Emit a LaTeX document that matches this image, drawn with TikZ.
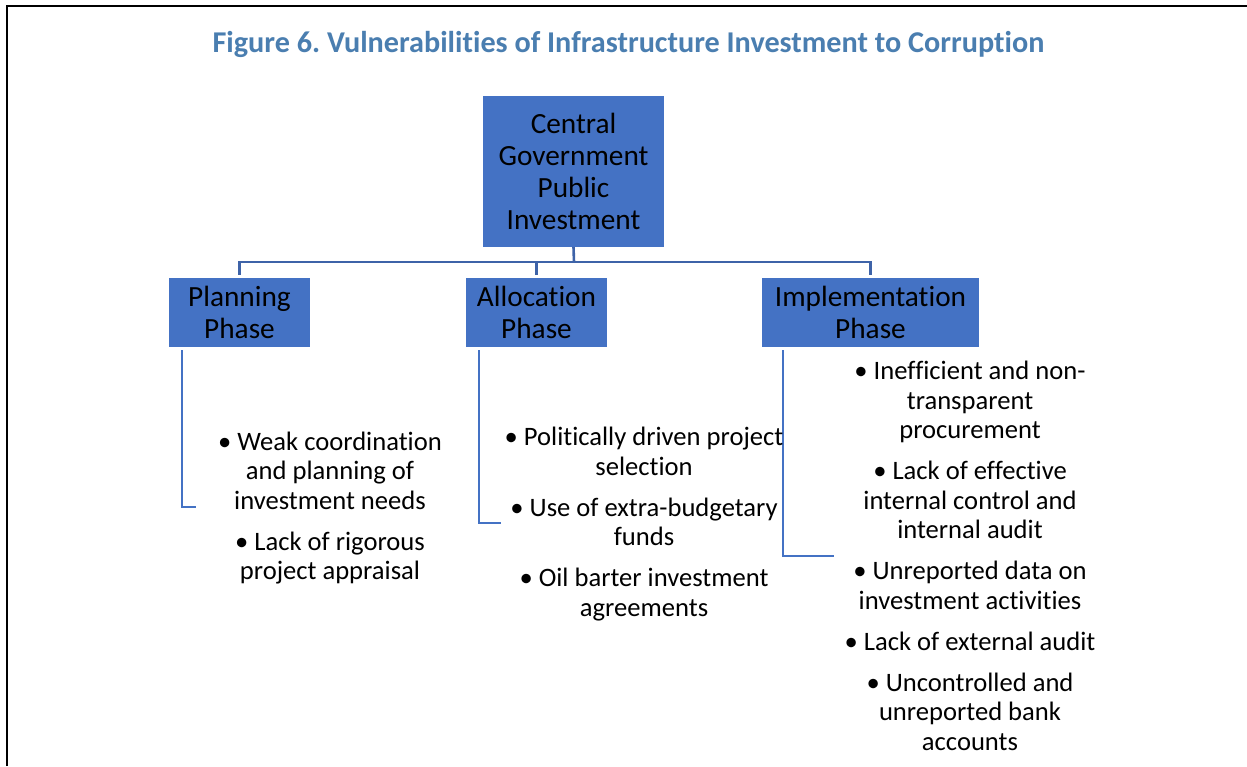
\documentclass[tikz,border=0pt]{standalone}
\usepackage{fontspec}
\setmainfont{Carlito}[Ligatures={NoCommon}]
\usetikzlibrary{calc}
\frenchspacing
\definecolor{boxblue}{HTML}{4472C4}
\definecolor{connblue}{HTML}{3E63A8}
\definecolor{titleblue}{HTML}{4A7EB0}
\tikzset{
  phasebox/.style={rectangle, fill=boxblue, draw=none, inner sep=0pt, align=center, text=black,
    font=\fontsize{29.3}{31.8}\selectfont},
  conn/.style={draw=connblue, line width=2.6pt},
  brk/.style={draw=boxblue, line width=2.6pt},
  bullets/.style={align=center, inner sep=0pt, text=black, font=\fontsize{26.6}{29.5}\selectfont},
  frameline/.style={draw=black, line width=2.2pt}
}
\begin{document}
\begin{tikzpicture}[x=1pt,y=-1pt]
\useasboundingbox (0,0) rectangle (1247,766);
\fill[white] (0,0) rectangle (1247,766);
\draw[frameline] (7,766) -- (7,6) -- (1247,6);

\node[inner sep=0pt, text=titleblue, font=\bfseries\fontsize{30.2}{36}\selectfont] (title) at (628.5,44.5)
  {Figure 6. Vulnerabilities of Infrastructure Investment to Corruption};

\node[phasebox, minimum width=181pt, minimum height=151pt] (central) at (573.5,171.5)
  {Central\\Government\\Public\\Investment};

\node[phasebox, minimum width=141pt, minimum height=69pt] (planning) at (239.5,312.5) {Planning\\Phase};
\node[phasebox, minimum width=141pt, minimum height=69pt] (allocation) at (536.5,312.5) {Allocation\\Phase};
\node[phasebox, minimum width=217pt, minimum height=69pt] (implementation) at (870.5,312.5) {Implementation\\Phase};

\coordinate (hub) at (574,262);
\draw[conn] (central.south) -- (hub);
\draw[conn] (hub) -| ([yshift=3pt]planning.north);
\draw[conn] (hub) -| ([yshift=3pt]implementation.north);
\draw[conn] (hub) -| ([yshift=3pt]allocation.north);

\coordinate (pend) at (196,507);
\coordinate (aend) at (501,523);
\coordinate (iend) at (834,556);
\draw[brk] ([xshift=13pt,yshift=-3pt]planning.south west) |- (pend);
\draw[brk] ([xshift=13pt,yshift=-3pt]allocation.south west) |- (aend);
\draw[brk] ([xshift=21pt,yshift=-3pt]implementation.south west) |- (iend);

\node[bullets] (plist) at (330,508)
  {• Weak coordination\\and planning of\\investment needs\\[11.5pt]
   • Lack of rigorous\\project appraisal};
\node[bullets] (alist) at (644,524)
  {• Politically driven project\\selection\\[11.5pt]
   • Use of extra-budgetary\\funds\\[11.5pt]
   • Oil barter investment\\agreements};
\node[bullets] (ilist) at (970,556)
  {• Inefficient and non-\\transparent\\procurement\\[11.5pt]
   • Lack of effective\\internal control and\\internal audit\\[11.5pt]
   • Unreported data on\\investment activities\\[11.5pt]
   • Lack of external audit\\[11.5pt]
   • Uncontrolled and\\unreported bank\\accounts};
\end{tikzpicture}
\end{document}
